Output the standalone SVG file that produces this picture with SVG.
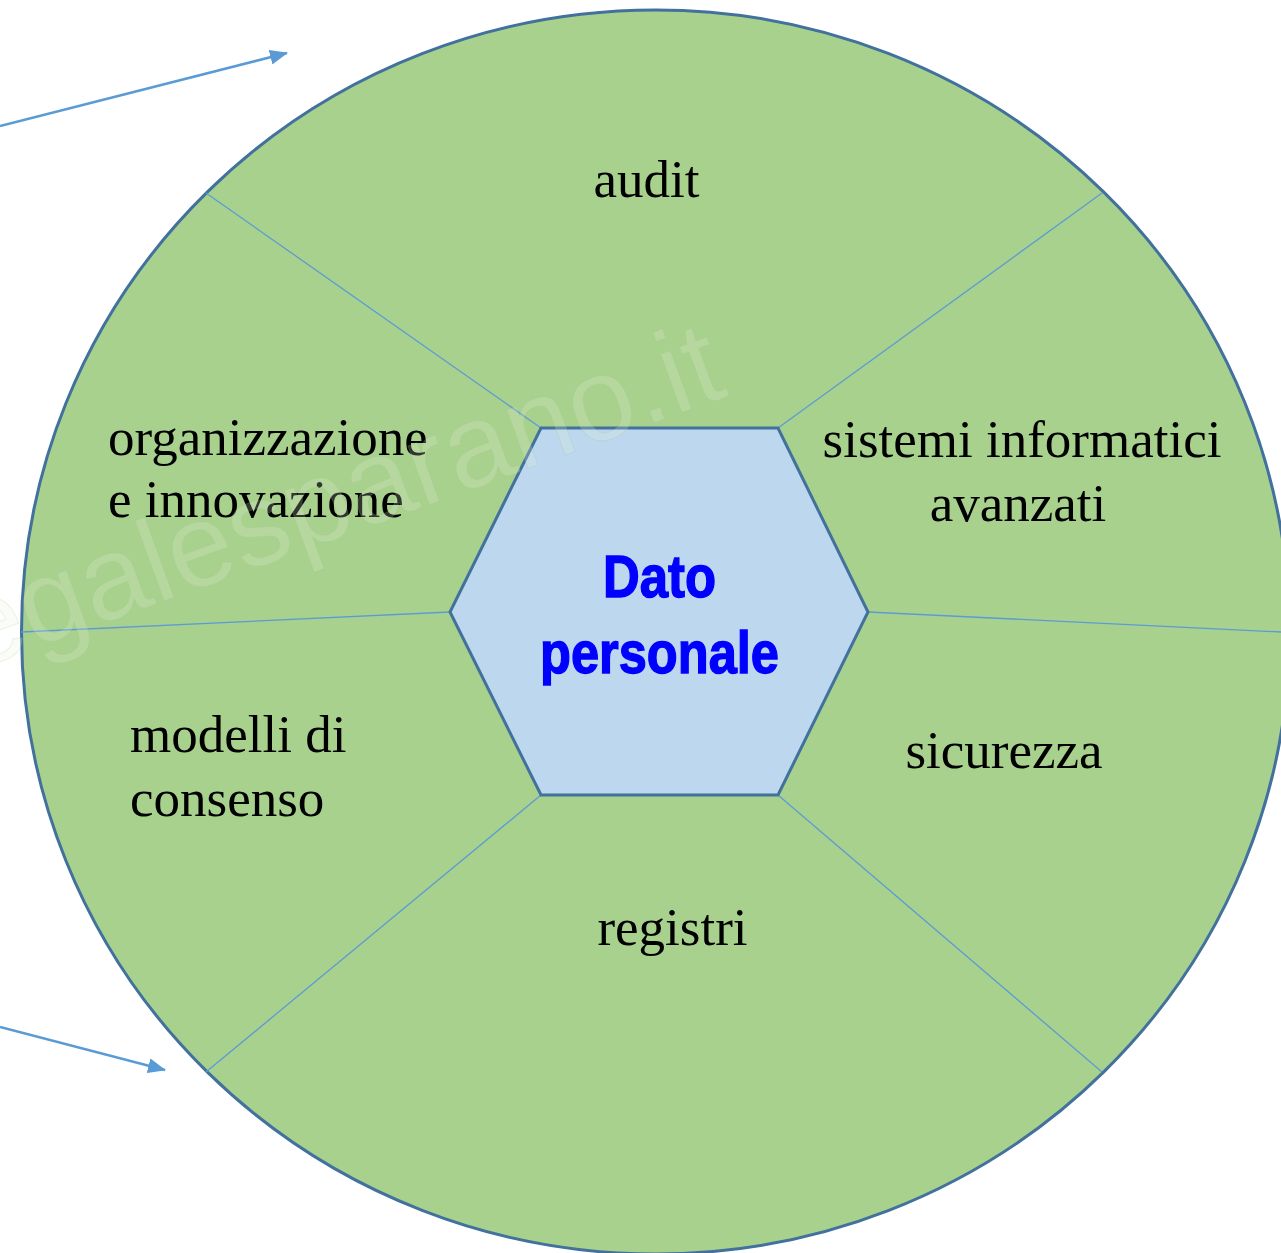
<svg xmlns="http://www.w3.org/2000/svg" width="1281" height="1253" viewBox="0 0 1281 1253">
  <defs>
    <style>
      .lbl { font-family: "Liberation Serif", "Times New Roman", serif; font-size: 53px; fill: #000000; }
      .ctr { text-anchor: middle; }
      .core { font-family: "Liberation Sans Narrow", "Liberation Sans", Arial, sans-serif; font-weight: bold; font-size: 59px; fill: #0000FF; stroke: #0000FF; stroke-width: 1.4; text-anchor: middle; }
      .div { stroke: #5B9BD5; stroke-width: 1.3; fill: none; }
      .arrow { stroke: #5B9BD5; stroke-width: 2.6; fill: none; marker-end: url(#ah); }
      .wm { font-family: "Liberation Sans", Arial, sans-serif; font-size: 118px; fill: #e2f2da; fill-opacity: 0.22; stroke: #9cc48a; stroke-opacity: 0.18; stroke-width: 1; }
    </style>
    <marker id="ah" markerUnits="userSpaceOnUse" markerWidth="18" markerHeight="15" refX="17" refY="7.5" orient="auto">
      <path d="M0,0 L18,7.5 L0,15 Z" fill="#5B9BD5"/>
    </marker>
  </defs>
  <rect width="1281" height="1253" fill="#ffffff"/>

  <g id="wheel">
    <ellipse cx="655.5" cy="632" rx="634" ry="622" fill="#A9D18E" stroke="#41719C" stroke-width="3"/>
  </g>

  <g id="connectors">
    <line class="div" x1="541" y1="428" x2="206" y2="193"/>
    <line class="div" x1="778" y1="428" x2="1102" y2="193"/>
    <line class="div" x1="450" y1="612" x2="21" y2="632"/>
    <line class="div" x1="868" y1="612" x2="1281" y2="632"/>
    <line class="div" x1="541" y1="795" x2="206" y2="1072"/>
    <line class="div" x1="778" y1="795" x2="1102" y2="1072"/>
    <line class="arrow" x1="0" y1="126" x2="287" y2="53"/>
    <line class="arrow" x1="0" y1="1027" x2="165" y2="1070"/>
  </g>

  <g id="node-audit">
    <text class="lbl ctr" x="646.5" y="197">audit</text>
  </g>
  <g id="node-organizzazione">
    <text class="lbl" x="108" y="455">organizzazione</text>
    <text class="lbl" x="108" y="517">e innovazione</text>
  </g>
  <g id="node-sistemi">
    <text class="lbl ctr" x="1022" y="457">sistemi informatici</text>
    <text class="lbl ctr" x="1018" y="521">avanzati</text>
  </g>
  <g id="node-modelli">
    <text class="lbl" x="130" y="752">modelli di</text>
    <text class="lbl" x="130" y="816">consenso</text>
  </g>
  <g id="node-sicurezza">
    <text class="lbl ctr" x="1004" y="768">sicurezza</text>
  </g>
  <g id="node-registri">
    <text class="lbl ctr" x="672.5" y="945">registri</text>
  </g>

  <g id="node-dato">
    <polygon points="541,428 778,428 868,612 778,795 541,795 450,612" fill="#BDD7EE" stroke="#41719C" stroke-width="3"/>
    <text class="core" x="659.5" y="597" textLength="113" lengthAdjust="spacingAndGlyphs">Dato</text>
    <text class="core" x="659.5" y="673" textLength="239" lengthAdjust="spacingAndGlyphs">personale</text>
  </g>

  <g id="watermark">
    <text class="wm" x="730" y="395" text-anchor="end" transform="rotate(-20 730 395)">legalesparano.it</text>
  </g>
</svg>
